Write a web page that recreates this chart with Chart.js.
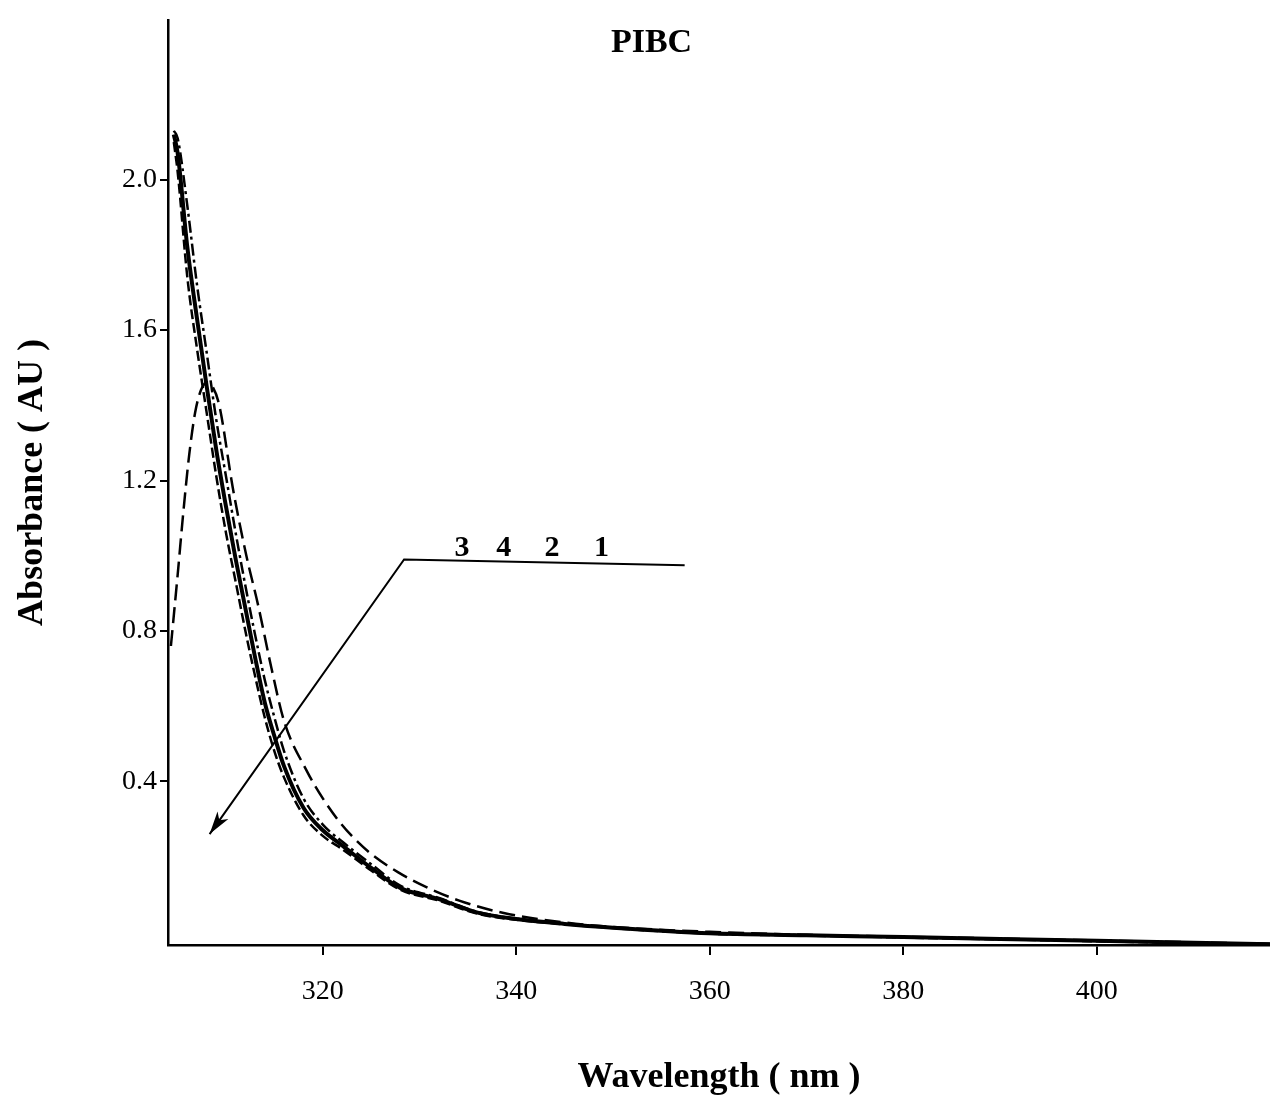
<!DOCTYPE html>
<html><head><meta charset="utf-8">
<script src="https://cdn.jsdelivr.net/npm/chart.js@4.4.0/dist/chart.umd.min.js"></script>
<style>html,body{margin:0;padding:0;background:#fff;}canvas{display:block;}</style>
</head><body>
<canvas id="c" width="1270" height="1099"></canvas>
<script>
// ---- data ----
const wavelengths = [304.6, 305, 306, 307, 308, 309, 310, 311, 312, 313, 314, 315, 316, 318, 320, 322, 325, 328, 332, 336, 340, 345, 350, 360, 370, 380, 390, 400, 410, 418];
const curve3 = [2.12, 2.07, 1.82, 1.63, 1.45, 1.28, 1.13, 0.99, 0.86, 0.73, 0.61, 0.52, 0.44, 0.33, 0.27, 0.23, 0.17, 0.117, 0.087, 0.051, 0.034, 0.021, 0.011, -0.004, -0.009, -0.014, -0.019, -0.024, -0.029, -0.033];
const curve4 = [2.13, 2.11, 1.93, 1.72, 1.54, 1.36, 1.21, 1.06, 0.92, 0.79, 0.67, 0.57, 0.48, 0.355, 0.285, 0.24, 0.18, 0.123, 0.09, 0.053, 0.035, 0.021, 0.011, -0.004, -0.009, -0.014, -0.019, -0.024, -0.029, -0.033];
const curve2 = [2.10, 2.02, 1.74, 1.55, 1.38, 1.21, 1.06, 0.93, 0.80, 0.68, 0.57, 0.48, 0.41, 0.31, 0.255, 0.22, 0.163, 0.112, 0.083, 0.048, 0.032, 0.020, 0.010, -0.005, -0.010, -0.015, -0.020, -0.025, -0.030, -0.034];
const curve1Wavelengths = [304.3, 305.0, 305.6, 306.2, 306.8, 307.4, 308.0, 308.6, 309.3, 310.7, 312.1, 313.3, 314.7, 316.0, 318.3, 320.0, 321.5, 323.0, 325.1, 327.8, 330.6, 334.1, 338.7, 345, 350, 360, 370, 380, 390, 400, 410, 418];
const curve1 = [0.76, 0.95, 1.12, 1.27, 1.38, 1.44, 1.46, 1.45, 1.40, 1.18, 1.00, 0.87, 0.70, 0.56, 0.43, 0.355, 0.30, 0.255, 0.205, 0.158, 0.12, 0.083, 0.05, 0.025, 0.013, 0.0, -0.008, -0.013, -0.018, -0.023, -0.028, -0.032];
const xTickValues = [320, 340, 360, 380, 400];
const yTickValues = [0.4, 0.8, 1.2, 1.6, 2.0];
const arrowTip = [308.3, 0.26];
const arrowElbow = [328.4, 0.99];
const arrowEnd = [357.4, 0.975];
const curveLabels = ['3', '4', '2', '1'];
const curveLabelX = [334.4, 338.7, 343.7, 348.8];
const curveLabelY = 1.0;

function pts(xs, ys) { return xs.map((x, i) => ({ x: x, y: ys[i] })); }

const serif = "'Liberation Serif', 'DejaVu Serif', serif";

const whiteBg = {
  id: 'whiteBg',
  beforeDraw(chart) {
    const c = chart.ctx; c.save(); c.fillStyle = '#fff';
    c.fillRect(0, 0, chart.width, chart.height); c.restore();
  }
};

const annot = {
  id: 'annot',
  afterDatasetsDraw(chart) {
    const c = chart.ctx, xs = chart.scales.x, ys = chart.scales.y;
    const P = (p) => [xs.getPixelForValue(p[0]), ys.getPixelForValue(p[1])];
    const tip = P(arrowTip), elb = P(arrowElbow), end = P(arrowEnd);
    c.save();
    c.strokeStyle = '#000'; c.fillStyle = '#000'; c.lineWidth = 2;
    c.beginPath(); c.moveTo(end[0], end[1]); c.lineTo(elb[0], elb[1]); c.lineTo(tip[0], tip[1]); c.stroke();
    // arrow head
    const ang = Math.atan2(tip[1] - elb[1], tip[0] - elb[0]);
    const L = 24, W = 0.28;
    c.beginPath();
    c.moveTo(tip[0], tip[1]);
    c.lineTo(tip[0] - L * Math.cos(ang - W), tip[1] - L * Math.sin(ang - W));
    c.lineTo(tip[0] - L * 0.7 * Math.cos(ang), tip[1] - L * 0.7 * Math.sin(ang));
    c.lineTo(tip[0] - L * Math.cos(ang + W), tip[1] - L * Math.sin(ang + W));
    c.closePath(); c.fill();
    // curve labels
    c.font = 'bold 30px ' + serif; c.textAlign = 'center'; c.textBaseline = 'alphabetic';
    curveLabels.forEach((t, i) => {
      c.fillText(t, xs.getPixelForValue(curveLabelX[i]), ys.getPixelForValue(curveLabelY));
    });
    // chart title
    c.font = 'bold 34px ' + serif; c.textBaseline = 'middle';
    c.fillText('PIBC', chart.width * 0.513, 43);
    c.restore();
  }
};

new Chart(document.getElementById('c'), {
  type: 'line',
  data: {
    datasets: [
      { label: '1', data: pts(curve1Wavelengths, curve1), borderColor: '#000', borderWidth: 2.5, borderDash: [16, 7], pointRadius: 0, cubicInterpolationMode: 'monotone', fill: false },
      { label: '2', data: pts(wavelengths, curve2), borderColor: '#000', borderWidth: 2.5, borderDash: [10, 4], pointRadius: 0, cubicInterpolationMode: 'monotone', fill: false },
      { label: '3', data: pts(wavelengths, curve3), borderColor: '#000', borderWidth: 4, pointRadius: 0, cubicInterpolationMode: 'monotone', fill: false },
      { label: '4', data: pts(wavelengths, curve4), borderColor: '#000', borderWidth: 2.5, borderDash: [12, 4, 3, 4], pointRadius: 0, cubicInterpolationMode: 'monotone', fill: false }
    ]
  },
  options: {
    responsive: false,
    animation: false,
    layout: { padding: { top: 15, right: 0, bottom: 0, left: 0 } },
    plugins: { legend: { display: false }, tooltip: { enabled: false }, title: { display: false } },
    scales: {
      x: {
        type: 'linear', min: 304.0, max: 417.9,
        afterFit(s) { s.height = 154; },
        afterBuildTicks(s) { s.ticks = xTickValues.map(v => ({ value: v })); },
        ticks: { color: '#000', font: { family: serif, size: 28 }, padding: 20, maxRotation: 0, autoSkip: false, callback: v => String(v) },
        grid: { drawOnChartArea: false, drawTicks: true, tickLength: 10, color: '#000', lineWidth: 2 },
        border: { display: true, color: '#000', width: 2.5 },
        title: { display: true, text: 'Wavelength ( nm )', color: '#000', font: { family: serif, size: 36, weight: 'bold' }, padding: { top: 0, bottom: 0 } }
      },
      y: {
        type: 'linear', min: -0.035, max: 2.425,
        afterFit(s) { s.width = 168; },
        afterBuildTicks(s) { s.ticks = yTickValues.map(v => ({ value: v })); },
        ticks: { color: '#000', font: { family: serif, size: 28 }, padding: 3, autoSkip: false, callback: v => Number(v).toFixed(1) },
        grid: { drawOnChartArea: false, drawTicks: true, tickLength: 8, color: '#000', lineWidth: 2 },
        border: { display: true, color: '#000', width: 2.5 },
        title: { display: true, text: 'Absorbance ( AU )', color: '#000', font: { family: serif, size: 36, weight: 'bold' }, padding: { top: 11, bottom: 0 } }
      }
    }
  },
  plugins: [whiteBg, annot]
});
</script>
</body></html>
